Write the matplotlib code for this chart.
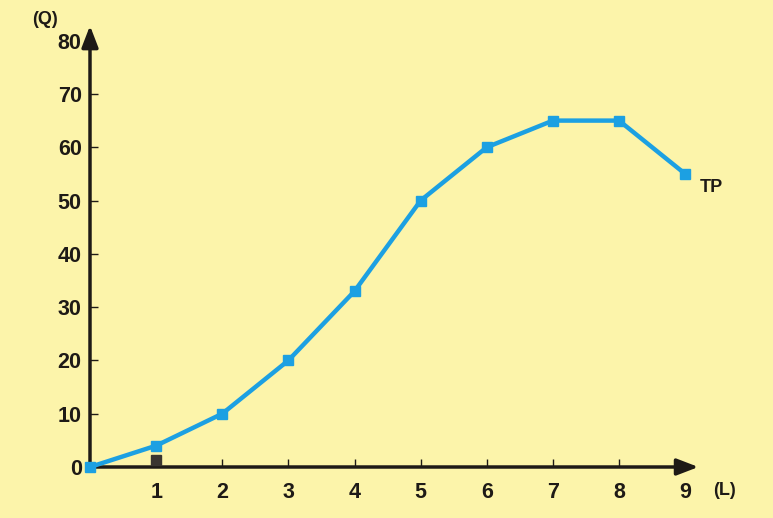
import numpy as np
import matplotlib.pyplot as plt

plt.rcParams["font.family"] = ["Liberation Sans", "DejaVu Sans"]
plt.rcParams["font.weight"] = "bold"

bg = "#FCF4AA"
blue = "#1CA0E2"
ink = "#1E1A16"

labor = [0, 1, 2, 3, 4, 5, 6, 7, 8, 9]
total_product = [0, 4, 10, 20, 33, 50, 60, 65, 65, 55]
x_ticks = [1, 2, 3, 4, 5, 6, 7, 8, 9]
y_ticks = [0, 10, 20, 30, 40, 50, 60, 70, 80]

fig = plt.figure(figsize=(7.73, 5.18), dpi=100, facecolor=bg)
ax = fig.add_axes([90 / 773, 51 / 518, 615 / 773, 437 / 518])
ax.set_facecolor(bg)
ax.set_xlim(0, 9.3)
ax.set_ylim(0, 82)
for s in ax.spines.values():
    s.set_visible(False)

# axes with arrow heads
arrow = dict(arrowstyle="-|>,head_length=1.3,head_width=0.5",
             color=ink, lw=2.5, shrinkA=0, shrinkB=0)
ax.annotate("", xy=(9.2, 0), xytext=(0, 0), annotation_clip=False, arrowprops=arrow)
ax.annotate("", xy=(0, 82.8), xytext=(0, 0), annotation_clip=False, arrowprops=arrow)

ax.set_xticks(x_ticks)
ax.set_yticks(y_ticks)
ax.tick_params(axis="x", direction="in", length=6, width=1, color=ink,
               labelsize=15.5, labelcolor=ink, pad=11)
ax.tick_params(axis="y", direction="in", length=6, width=1, color=ink,
               labelsize=15.5, labelcolor=ink, pad=6)
ax.yaxis.get_ticklines()[0].set_visible(False)
ax.yaxis.get_ticklines()[-2].set_visible(False)
ax.xaxis.get_ticklines()[-2].set_visible(False)

ax.plot(labor, total_product, color=blue, lw=3.2, marker="s", markersize=7.5,
        clip_on=False, zorder=5)
ax.plot([1], [1.3], marker="s", color="#3A3530", markersize=7.5, clip_on=False, zorder=4)

ax.text(-0.68, 84.0, "(Q)", fontsize=13, color=ink, ha="center", va="center")
ax.text(9.6, -4.4, "(L)", fontsize=13, color=ink, ha="center", va="center")
ax.text(9.4, 52.5, "TP", fontsize=13, color=ink, ha="center", va="center")

fig.savefig("out.png", dpi=100, facecolor=bg)
